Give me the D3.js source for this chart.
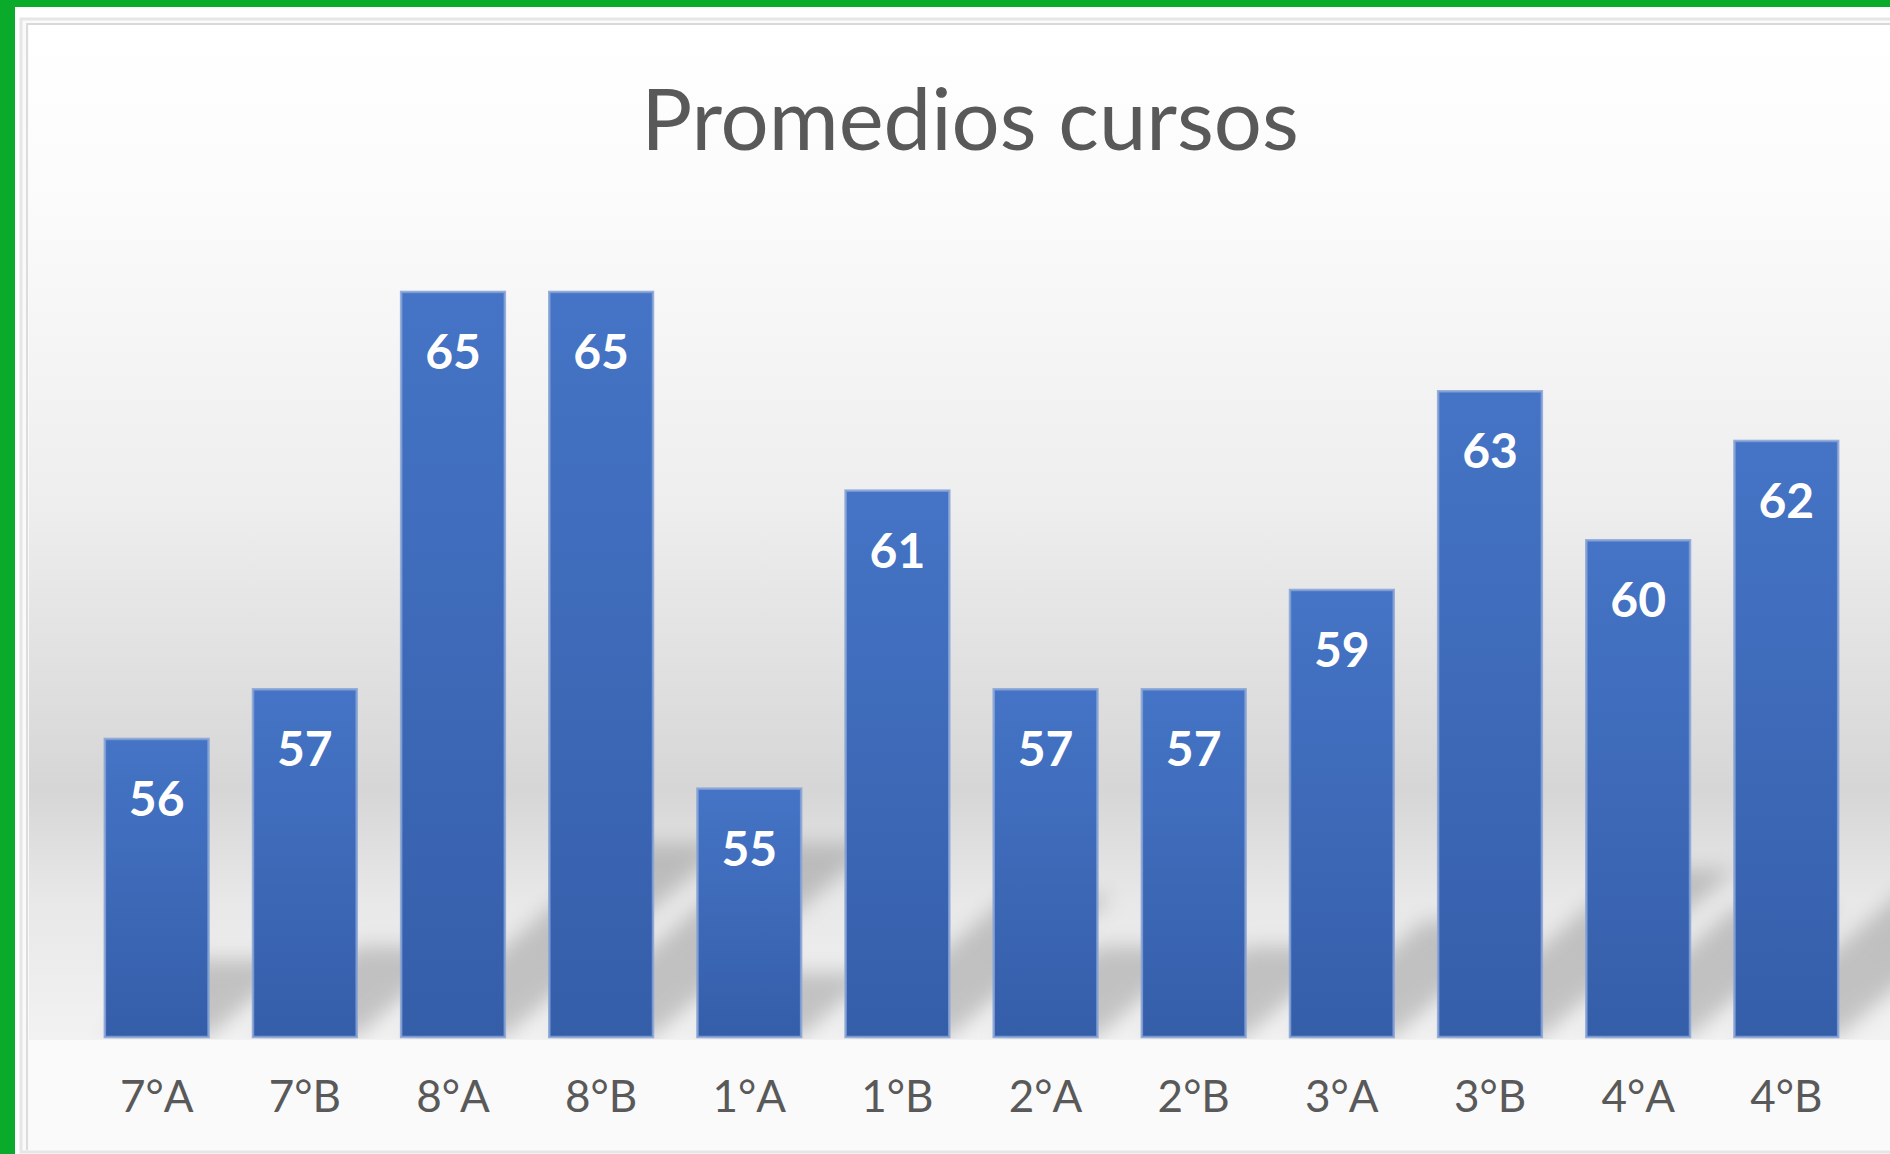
<!DOCTYPE html>
<html>
<head>
<meta charset="utf-8">
<script src="https://cdn.jsdelivr.net/npm/d3@7"></script>
<style>
  html, body { margin: 0; padding: 0; background: #fff; }
  svg { display: block; }
</style>
</head>
<body>
<script>
// data
var cursos = ["7°A", "7°B", "8°A", "8°B", "1°A", "1°B", "2°A", "2°B", "3°A", "3°B", "4°A", "4°B"];
var promedios = [56, 57, 65, 65, 55, 61, 57, 57, 59, 63, 60, 62];
var titulo = "Promedios cursos";

var W = 1890, H = 1154;
var base = 1037;

var svg = d3.select("body").append("svg")
    .attr("width", W)
    .attr("height", H);

var defs = svg.append("defs");

// background gradient of the chart area
var bg = defs.append("linearGradient")
    .attr("id", "bg")
    .attr("gradientUnits", "userSpaceOnUse")
    .attr("x1", 0).attr("y1", 24).attr("x2", 0).attr("y2", 1040);
[[24, "#ffffff"], [200, "#fbfbfb"], [500, "#eeeeee"], [790, "#d6d6d6"], [900, "#e8e8e8"], [1000, "#efefef"], [1040, "#f2f2f2"]]
  .forEach(function (s) {
    bg.append("stop").attr("offset", (s[0] - 24) / 1016).attr("stop-color", s[1]);
  });

var barGrad = defs.append("linearGradient")
    .attr("id", "barGrad")
    .attr("x1", 0).attr("y1", 0).attr("x2", 0).attr("y2", 1);
barGrad.append("stop").attr("offset", 0).attr("stop-color", "#4574c6");
barGrad.append("stop").attr("offset", 1).attr("stop-color", "#355ea9");

defs.append("filter").attr("id", "blur")
    .attr("x", "-50%").attr("y", "-50%").attr("width", "200%").attr("height", "200%")
  .append("feGaussianBlur").attr("stdDeviation", 10);

defs.append("clipPath").attr("id", "plotClip")
  .append("rect").attr("x", 29).attr("y", 24).attr("width", W).attr("height", base - 24 + 2);

// green frame
svg.append("rect").attr("x", 0).attr("y", 0).attr("width", W).attr("height", 7).attr("fill", "#0aaa2a");
svg.append("rect").attr("x", 0).attr("y", 0).attr("width", 15).attr("height", H).attr("fill", "#0aaa2a");

// chart panel
svg.append("rect").attr("x", 21).attr("y", 19).attr("width", W).attr("height", 1133)
    .attr("fill", "#fafafa").attr("stroke", "#e6e6e6").attr("stroke-width", 3);
svg.append("rect").attr("x", 26).attr("y", 23).attr("width", W).attr("height", 2).attr("fill", "#d9d9d9");
svg.append("rect").attr("x", 26).attr("y", 23).attr("width", 2).attr("height", 1127).attr("fill", "#dcdcdc");
svg.append("rect").attr("x", 29).attr("y", 25).attr("width", W).attr("height", base - 25 + 3).attr("fill", "url(#bg)");
svg.append("rect").attr("x", 29).attr("y", base + 3).attr("width", W).attr("height", 108).attr("fill", "#fafafa");

var x = d3.scaleBand()
    .domain(cursos)
    .range([53, 1890])
    .paddingInner(0.3)
    .paddingOuter(0.35);

var y = d3.scaleLinear()
    .domain([50, 66])
    .range([base, base - 16 * 49.67]);

var data = cursos.map(function (c, i) { return { curso: c, valor: promedios[i] }; });

// perspective shadows behind the bars
svg.append("g").attr("clip-path", "url(#plotClip)")
  .selectAll("path").data(data).enter().append("path")
    .attr("d", function (d) {
      var x0 = x(d.curso), x1 = x(d.curso) + x.bandwidth();
      var h = base - y(d.valor);
      var dx = 0.3 * h, dy = 0.26 * h;
      return "M" + x0 + "," + base + "L" + x1 + "," + base +
             "L" + (x1 + dx) + "," + (base - dy) + "L" + (x0 + dx) + "," + (base - dy) + "Z";
    })
    .attr("fill", "#8c8c8c")
    .attr("opacity", 0.45)
    .attr("filter", "url(#blur)");

// bars
svg.append("g").selectAll("rect").data(data).enter().append("rect")
    .attr("x", function (d) { return x(d.curso); })
    .attr("y", function (d) { return y(d.valor); })
    .attr("width", x.bandwidth())
    .attr("height", function (d) { return base - y(d.valor); })
    .attr("fill", "url(#barGrad)")
    .attr("stroke", "#86a2d6")
    .attr("stroke-opacity", 0.85)
    .attr("stroke-width", 2.5);

// value labels
svg.append("g").selectAll("text").data(data).enter().append("text")
    .attr("x", function (d) { return x(d.curso) + x.bandwidth() / 2; })
    .attr("y", function (d) { return y(d.valor) + 77; })
    .attr("text-anchor", "middle")
    .attr("font-family", "Lato, 'Open Sans', sans-serif")
    .attr("font-weight", "bold")
    .attr("font-size", 48)
    .attr("fill", "#ffffff")
    .text(function (d) { return d.valor; });

// x axis (labels only)
var xAxis = svg.append("g")
    .attr("transform", "translate(0," + base + ")")
    .call(d3.axisBottom(x).tickSize(0).tickPadding(0));
xAxis.select(".domain").remove();
xAxis.selectAll("text")
    .attr("y", 75)
    .attr("dy", 0)
    .attr("font-family", "Lato, 'Open Sans', sans-serif")
    .attr("font-size", 44)
    .attr("fill", "#595959");

// title
svg.append("text")
    .attr("x", 970)
    .attr("y", 150)
    .attr("text-anchor", "middle")
    .attr("font-family", "Lato, 'Open Sans', sans-serif")
    .attr("font-size", 85)
    .attr("fill", "#595959")
    .text(titulo);
</script>
</body>
</html>
